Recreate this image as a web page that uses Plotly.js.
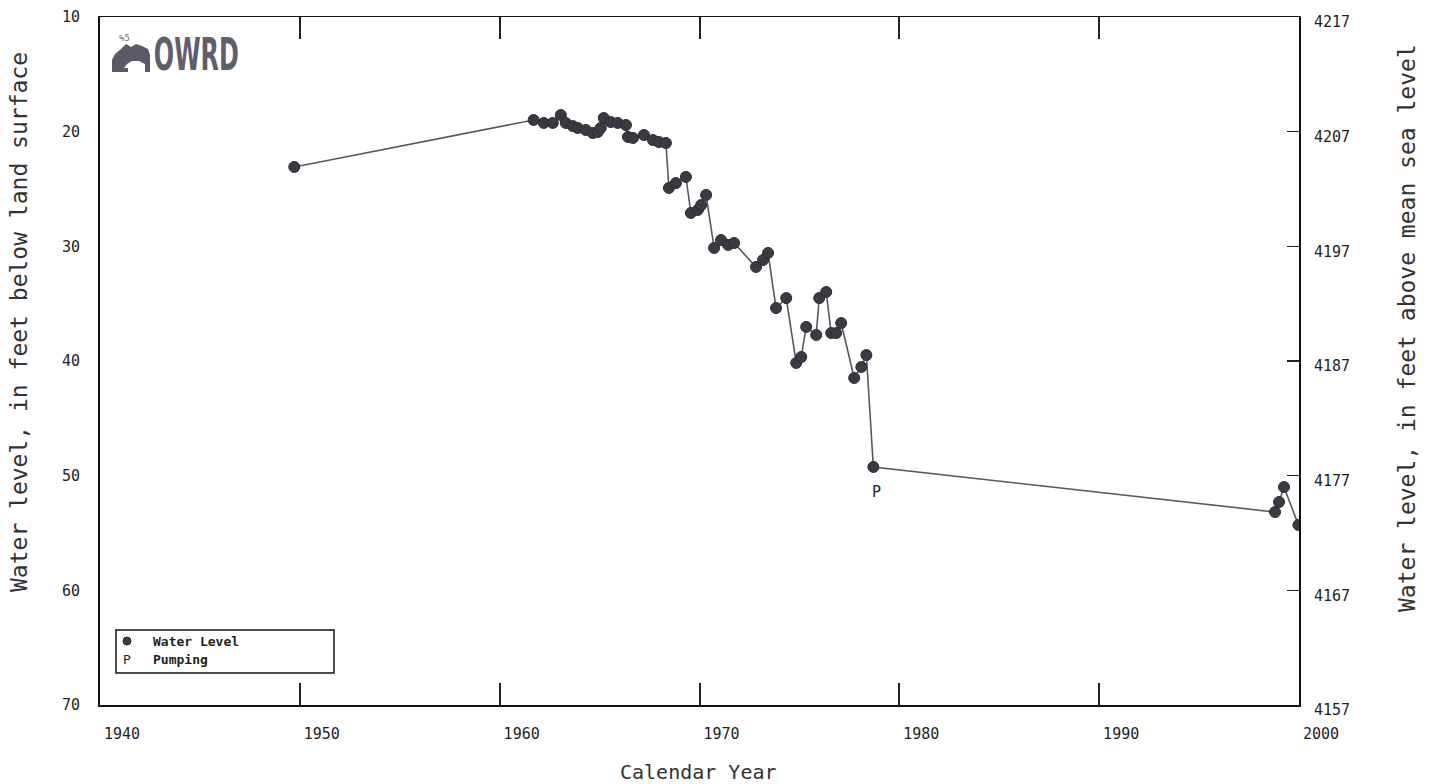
<!DOCTYPE html>
<html>
<head>
<meta charset="utf-8">
<script src="https://cdn.plot.ly/plotly-3.0.1.min.js"></script>
<style>
  html, body { margin: 0; padding: 0; background: #ffffff; }
  #chart { width: 1435px; height: 784px; }
</style>
</head>
<body>
<div id="chart"></div>
<script>
// Well hydrograph: depth to water (feet below land surface) by measurement date
const measurementYears = [
  1949.72, 1961.70, 1962.21, 1962.66, 1963.06, 1963.31, 1963.66, 1963.91,
  1964.31, 1964.66, 1964.91, 1965.06, 1965.21, 1965.56, 1965.91, 1966.32,
  1966.42, 1966.67, 1967.22, 1967.67, 1967.97, 1968.32, 1968.47, 1968.82,
  1969.32, 1969.57, 1969.92, 1970.08, 1970.33, 1970.73, 1971.08, 1971.43,
  1971.73, 1972.83, 1973.18, 1973.43, 1973.83, 1974.34, 1974.84, 1975.09,
  1975.34, 1975.84, 1975.99, 1976.34, 1976.59, 1976.84, 1977.09, 1977.74,
  1978.10, 1978.35, 1978.70, 1998.80, 1999.00, 1999.25, 1999.97
];
const depthBelowLand = [
  23.08, 18.98, 19.24, 19.24, 18.55, 19.24, 19.51, 19.68,
  19.85, 20.12, 20.03, 19.68, 18.81, 19.16, 19.24, 19.42,
  20.46, 20.55, 20.29, 20.73, 20.90, 20.99, 24.91, 24.48,
  23.95, 27.09, 26.83, 26.40, 25.52, 30.14, 29.45, 29.88,
  29.71, 31.80, 31.19, 30.58, 35.38, 34.51, 40.17, 39.65,
  37.03, 37.73, 34.51, 33.98, 37.56, 37.56, 36.69, 41.48,
  40.52, 39.48, 49.24, 53.17, 52.30, 50.99, 54.30
];

// Measurements flagged as affected by pumping
const pumpingYears = [1978.70];
const pumpingDepths = [49.24];

// Land-surface elevation, feet above mean sea level
const landSurfaceElevation = 4227;

// Axis ticks
const yearTicks = [1940, 1950, 1960, 1970, 1980, 1990, 2000];
const depthTicks = [10, 20, 30, 40, 50, 60, 70];
const elevationTicks = [4157, 4167, 4177, 4187, 4197, 4207, 4217];

const elevations = depthBelowLand.map(d => landSurfaceElevation - d);

// Plot-area geometry in page pixels
const W = 1435, H = 784;
const M = { l: 100, r: 136, t: 17, b: 79 };
const PW = W - M.l - M.r, PH = H - M.t - M.b;
const px = x => (x - M.l) / PW;
const py = y => (H - M.b - y) / PH;

const mono = '"DejaVu Sans Mono", "Liberation Mono", monospace';
const ink = '#1e1e1e';

const traces = [
  {
    x: measurementYears,
    y: depthBelowLand,
    type: 'scatter',
    mode: 'lines+markers',
    name: 'Water Level',
    line: { color: '#58585c', width: 1.6 },
    marker: { symbol: 'circle', size: 11, color: '#3a3a42',
              line: { color: '#2c2c33', width: 1 } },
    hoverinfo: 'x+y',
    showlegend: false
  },
  {
    // same readings expressed as elevation, carries the right-hand axis
    x: measurementYears,
    y: elevations,
    yaxis: 'y2',
    type: 'scatter',
    mode: 'lines',
    opacity: 0,
    hoverinfo: 'skip',
    showlegend: false
  }
];

const annotations = [
  {
    text: 'Water level, in feet below land surface',
    xref: 'paper', yref: 'paper', x: px(19), y: py(322),
    xanchor: 'center', yanchor: 'middle', textangle: -90, showarrow: false,
    font: { family: mono, size: 23, color: '#333' }
  },
  {
    text: 'Water level, in feet above mean sea level',
    xref: 'paper', yref: 'paper', x: px(1407), y: py(328),
    xanchor: 'center', yanchor: 'middle', textangle: -90, showarrow: false,
    font: { family: mono, size: 23, color: '#333' }
  },
  {
    text: 'Calendar Year',
    xref: 'paper', yref: 'paper', x: px(698), y: py(772),
    xanchor: 'center', yanchor: 'middle', showarrow: false,
    font: { family: mono, size: 20, color: '#333' }
  },
  {
    text: '<b>OWRD</b>',
    xref: 'paper', yref: 'paper', x: px(196), y: py(55),
    xanchor: 'center', yanchor: 'middle', showarrow: false,
    font: { family: '"Liberation Sans Narrow", "DejaVu Sans Condensed", "Liberation Sans", sans-serif', size: 44, color: '#5e5e6c' }
  },
  {
    text: '%5',
    xref: 'paper', yref: 'paper', x: px(124), y: py(38),
    xanchor: 'center', yanchor: 'middle', showarrow: false,
    font: { family: mono, size: 9, color: '#6a6a76' }
  },
  // legend entries
  {
    text: 'Water Level',
    xref: 'paper', yref: 'paper', x: px(151), y: py(641),
    xanchor: 'left', yanchor: 'middle', showarrow: false,
    font: { family: mono, size: 13, color: ink, weight: 'bold' }
  },
  {
    text: 'P',
    xref: 'paper', yref: 'paper', x: px(127), y: py(659),
    xanchor: 'center', yanchor: 'middle', showarrow: false,
    font: { family: mono, size: 13, color: ink }
  },
  {
    text: 'Pumping',
    xref: 'paper', yref: 'paper', x: px(151), y: py(659),
    xanchor: 'left', yanchor: 'middle', showarrow: false,
    font: { family: mono, size: 13, color: ink, weight: 'bold' }
  }
];

// "P" code under each pumping-affected measurement
pumpingYears.forEach((yr, i) => {
  annotations.push({
    text: 'P', x: yr, y: pumpingDepths[i], xref: 'x', yref: 'y',
    yshift: -25, xshift: 3, showarrow: false,
    font: { family: mono, size: 15, color: ink }
  });
});

// logo emblem: small tree-on-hill silhouette
const emblemPath = [
  [112, 72], [112, 60], [115, 54], [121, 49], [126, 44], [131, 47], [136, 44],
  [142, 46], [148, 49], [150, 55], [150, 72], [145, 72], [145, 64], [139, 61],
  [132, 61], [127, 64], [124, 68], [128, 68], [128, 72]
].map((p, i) => (i ? 'L' : 'M') + px(p[0]).toFixed(5) + ',' + py(p[1]).toFixed(5)).join(' ') + ' Z';

const shapes = [
  {
    type: 'path', xref: 'paper', yref: 'paper', path: emblemPath,
    fillcolor: '#5a5a68', line: { width: 0 }
  },
  {
    type: 'rect', xref: 'paper', yref: 'paper',
    x0: px(116), x1: px(334), y0: py(673), y1: py(630),
    line: { color: '#111', width: 1.5 }, fillcolor: 'rgba(255,255,255,0)'
  },
  {
    type: 'circle', xref: 'paper', yref: 'paper',
    x0: px(123), x1: px(131), y0: py(645), y1: py(637),
    fillcolor: '#3a3a42', line: { color: '#2c2c33', width: 1 }
  }
];

const layout = {
  width: W, height: H,
  margin: M,
  paper_bgcolor: '#ffffff',
  plot_bgcolor: '#ffffff',
  showlegend: false,
  font: { family: mono, color: ink },
  xaxis: {
    range: [1940, 2000],
    tickvals: yearTicks,
    ticktext: yearTicks.map(String),
    ticks: 'inside', ticklen: 22, tickwidth: 2, tickcolor: '#222',
    showline: true, linecolor: '#111', linewidth: 1.5, mirror: 'ticks',
    showgrid: false, zeroline: false,
    ticklabelshift: 22, ticklabelstandoff: 14,
    tickfont: { family: mono, size: 15, color: ink }
  },
  yaxis: {
    range: [70, 10],
    tickvals: depthTicks,
    ticks: '', showline: true, linecolor: '#111', linewidth: 2,
    showgrid: false, zeroline: false,
    ticklabelstandoff: 15,
    tickfont: { family: mono, size: 15, color: ink }
  },
  yaxis2: {
    overlaying: 'y', side: 'right',
    range: [landSurfaceElevation - 70, landSurfaceElevation - 10],
    tickvals: elevationTicks,
    ticks: 'inside', ticklen: 12, tickwidth: 1.5, tickcolor: '#222',
    showline: true, linecolor: '#111', linewidth: 2,
    showgrid: false, zeroline: false,
    ticklabelshift: 5, ticklabelstandoff: 10,
    tickfont: { family: mono, size: 15, color: ink }
  },
  annotations: annotations,
  shapes: shapes
};

Plotly.newPlot('chart', traces, layout, { staticPlot: true, displayModeBar: false }).then(gd => {
  // squeeze the wordmark to a condensed width
  gd.querySelectorAll('.annotation-text').forEach(t => {
    if (t.textContent === 'OWRD') {
      const w = t.getBBox().width;
      const target = 85;
      t.style.transformBox = 'fill-box';
      t.style.transformOrigin = 'center';
      t.style.transform = 'scaleX(' + (target / w).toFixed(3) + ')';
    }
  });
});
</script>
</body>
</html>
